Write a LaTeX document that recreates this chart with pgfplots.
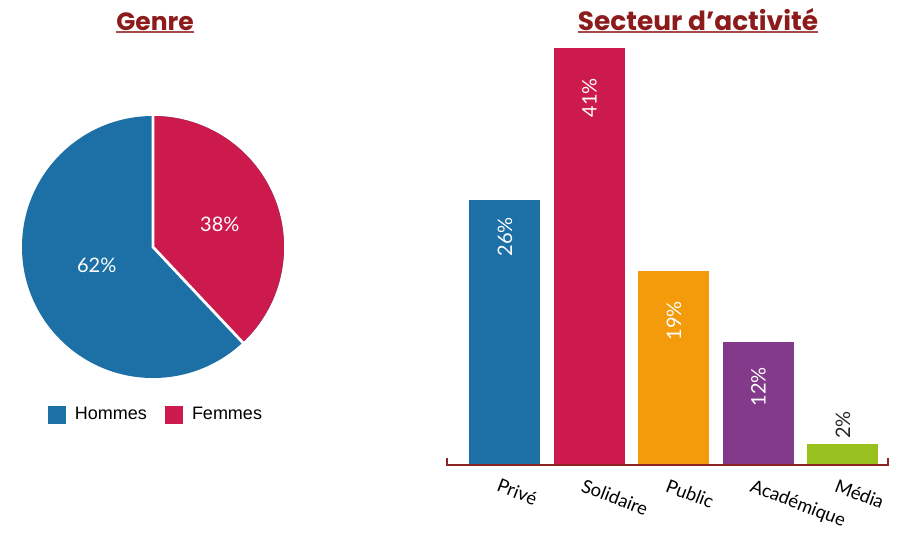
\documentclass[border=0pt]{standalone}
\usepackage{fontspec}
\setmainfont{Lato}
\newfontfamily\titlefont{Poppins}
\newfontfamily\legfont{Liberation Sans}
\usepackage{pgfplots}
\pgfplotsset{compat=1.18}
\definecolor{hblue}{HTML}{1C70A6}
\definecolor{fpink}{HTML}{CD1A4D}
\definecolor{porange}{HTML}{F39B0B}
\definecolor{apurple}{HTML}{843A8B}
\definecolor{mgreen}{HTML}{98C11F}
\definecolor{tred}{HTML}{8C1C1C}
\definecolor{lred}{HTML}{8E2424}
\begin{document}
\begin{tikzpicture}
\useasboundingbox (0,0) rectangle (450.5pt,266pt);
% Titles
\node[font=\titlefont\bfseries\fontsize{12.5}{14}\selectfont, text=tred, inner sep=0pt, anchor=base] (g) at (77.5pt,251pt) {Genre};
\draw[tred!80, line width=0.8pt] (g.south west) ++(0,-0.8pt) -- ([yshift=-0.8pt]g.south east);
\node[font=\titlefont\bfseries\fontsize{13.2}{15}\selectfont, text=tred, inner sep=0pt, anchor=base] (s) at (349pt,251pt) {Secteur d’activité};
\draw[tred!80, line width=0.8pt] (s.south west) ++(0,-0.8pt) -- ([yshift=-0.8pt]s.south east);

% Pie chart
\def\femmes{38}
\def\hommes{62}
\pgfmathsetmacro{\endang}{90-3.6*\femmes}
\begin{axis}[
  at={(76.5pt,142.5pt)}, anchor=center,
  width=131pt, height=131pt, scale only axis,
  xmin=-1, xmax=1, ymin=-1, ymax=1,
  hide axis, clip=false,
  legend style={at={(0.5,-0.08)}, anchor=north, xshift=2pt, draw=none, fill=none,
    font=\legfont\fontsize{9}{10}\selectfont,
    /tikz/every even column/.append style={column sep=7pt}},
  legend columns=2,
  legend image code/.code={\fill[#1, draw=none] (0pt,-4.5pt) rectangle (9pt,4.5pt); \path (11.5pt,0pt);},
]
\fill[hblue] (axis cs:0,0) -- (axis cs:0,1) arc[start angle=90, end angle=\endang-360, radius=65.5pt] -- cycle;
\fill[fpink] (axis cs:0,0) -- (axis cs:0,1) arc[start angle=90, end angle=\endang, radius=65.5pt] -- cycle;
\draw[white, line width=1.4pt] (axis cs:0,1.01) -- (axis cs:0,0) -- ++({\endang}:66.5pt);
\node[white, font=\fontsize{10}{12}\selectfont] at (axis cs:0.51,0.17) {\femmes\%};
\node[white, font=\fontsize{10}{12}\selectfont] at (axis cs:-0.43,-0.14) {\hommes\%};
\addlegendimage{fill=hblue, draw=none}
\addlegendentry{Hommes}
\addlegendimage{fill=fpink, draw=none}
\addlegendentry{Femmes}
\end{axis}

% Bar chart
\begin{axis}[
  at={(223.5pt,34pt)}, anchor=south west,
  width=220.5pt, height=208pt, scale only axis,
  xmin=-0.686, xmax=4.533, ymin=0, ymax=41,
  axis x line*=bottom, axis y line=none,
  x axis line style={draw=none},
  major tick length=0pt,
  xtick={0,1,2,3,4},
  xticklabels={Privé,Solidaire,Public,Académique,Média},
  xticklabel style={rotate=-21, anchor=north west, font=\fontsize{9.2}{10}\selectfont, xshift=-3pt, yshift=-4pt},
  ybar, bar width=35.5pt, bar shift=0pt,
  clip=false,
  nodes near coords={\pgfmathprintnumber[assume math mode=true]{\pgfplotspointmeta}\%},
  every node near coord/.style={rotate=90, anchor=east, white, font=\fontsize{10}{12}\selectfont},
]
\addplot[fill=hblue, draw=none, nodes near coords style={xshift=-5pt}] coordinates {(0,26)};
\addplot[fill=fpink, draw=none, nodes near coords style={xshift=-11.5pt}] coordinates {(1,41)};
\addplot[fill=porange, draw=none, nodes near coords style={xshift=-11.5pt}] coordinates {(2,19)};
\addplot[fill=apurple, draw=none, nodes near coords style={xshift=-9pt}] coordinates {(3,12)};
\addplot[fill=mgreen, draw=none, every node near coord/.style={rotate=90, anchor=west, black!85, xshift=-1pt, font=\fontsize{10}{12}\selectfont}] coordinates {(4,2)};
\draw[lred, line width=1.2pt] (rel axis cs:0,0.014) -- (rel axis cs:0,-0.003) -- (rel axis cs:1,-0.003) -- (rel axis cs:1,0.014);
\end{axis}
\end{tikzpicture}
\end{document}
